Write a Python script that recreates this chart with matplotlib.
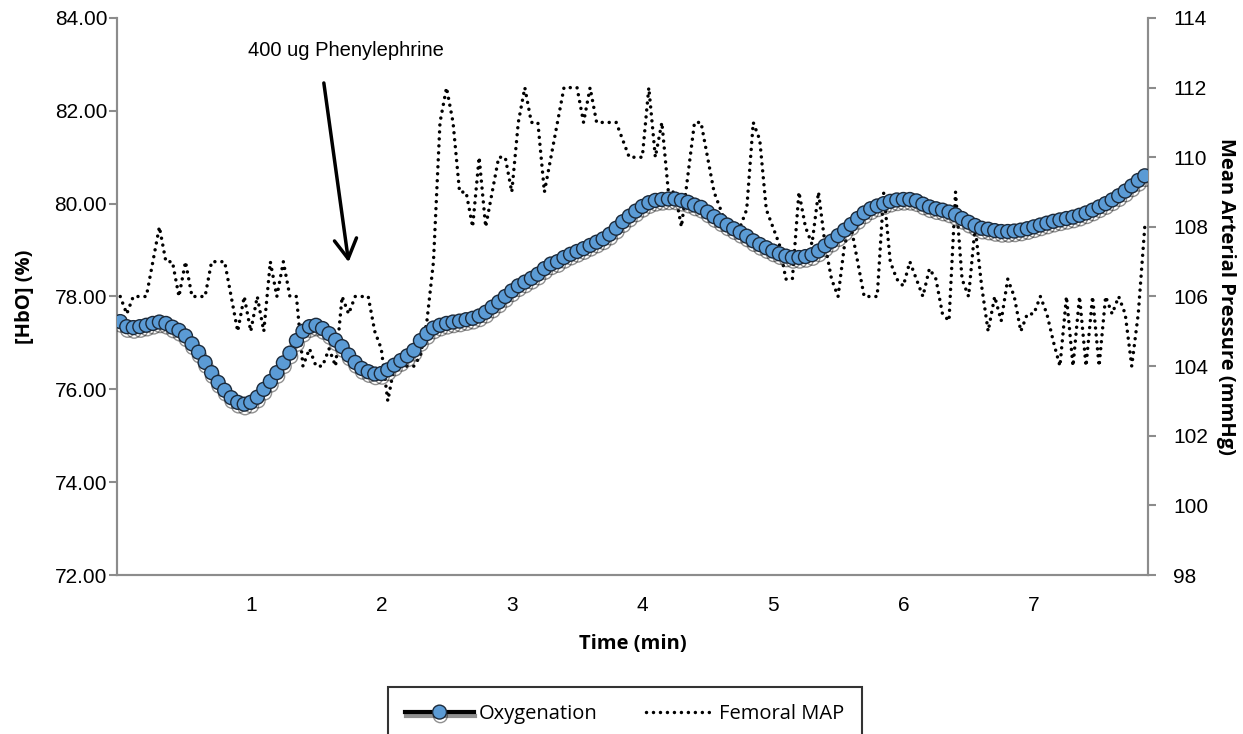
import numpy as np
import matplotlib
matplotlib.use("Agg")
import matplotlib.pyplot as plt
import matplotlib.patheffects as pe

# [HbO] (%) sampled every 3 s (0.05 min)
oxygenation = [
    77.46, 77.35, 77.33, 77.35, 77.38, 77.42, 77.45, 77.42, 77.34, 77.27,
    77.15, 76.98, 76.80, 76.58, 76.36, 76.15, 75.98, 75.82, 75.72, 75.68,
    75.72, 75.83, 76.00, 76.17, 76.36, 76.57, 76.78, 77.05, 77.25, 77.35,
    77.38, 77.31, 77.20, 77.06, 76.92, 76.74, 76.58, 76.45, 76.38, 76.33,
    76.34, 76.42, 76.52, 76.62, 76.72, 76.84, 77.05, 77.20, 77.32, 77.38,
    77.42, 77.45, 77.47, 77.50, 77.53, 77.58, 77.66, 77.77, 77.88, 78.00,
    78.12, 78.23, 78.31, 78.39, 78.48, 78.60, 78.70, 78.75, 78.84, 78.91,
    78.97, 79.03, 79.10, 79.17, 79.24, 79.34, 79.47, 79.61, 79.73, 79.84,
    79.94, 80.02, 80.07, 80.09, 80.10, 80.10, 80.07, 80.03, 79.97, 79.92,
    79.82, 79.72, 79.63, 79.54, 79.46, 79.38, 79.30, 79.20, 79.12, 79.05,
    78.98, 78.92, 78.87, 78.84, 78.84, 78.86, 78.90, 78.98, 79.09, 79.19,
    79.31, 79.43, 79.55, 79.68, 79.80, 79.89, 79.95, 80.00, 80.05, 80.08,
    80.09, 80.09, 80.06, 79.99, 79.93, 79.89, 79.86, 79.82, 79.76, 79.68,
    79.60, 79.53, 79.47, 79.45, 79.42, 79.40, 79.40, 79.41, 79.43, 79.46,
    79.50, 79.54, 79.58, 79.62, 79.65, 79.68, 79.71, 79.75, 79.80, 79.86,
    79.93, 80.00, 80.08, 80.17, 80.27, 80.38, 80.50, 80.60,
]

# femoral mean arterial pressure (mmHg), same sampling
femoral_map = [
    106, 105.5, 106, 106, 106, 107, 108, 107, 107, 106,
    107, 106, 106, 106, 107, 107, 107, 106, 105, 106,
    105, 106, 105, 107, 106, 107, 106, 106, 104, 104.5,
    104, 104, 104.5, 104, 106, 105.5, 106, 106, 106, 105,
    104.5, 103, 104, 104, 104, 104, 104.3, 105.3, 107, 111,
    112, 111, 109, 109, 108, 110, 108, 109, 110, 110,
    109, 111, 112, 111, 111, 109, 110, 111, 112, 112,
    112, 111, 112, 111, 111, 111, 111, 110.5, 110, 110,
    110, 112, 110, 111, 109, 109, 108, 109.5, 111, 111,
    110, 109, 108.5, 108, 108, 108, 108.5, 111, 110.5, 108.5,
    108, 107.5, 106.5, 106.5, 109, 108, 107.5, 109, 107.5, 106.5,
    106, 107.5, 108, 107, 106, 106, 106, 109, 107, 106.5,
    106.3, 107, 106.5, 106, 106.8, 106.5, 105.5, 105.3, 109, 106.5,
    106, 108, 106.3, 105, 106, 105.3, 106.5, 106, 105, 105.5,
    105.5, 106, 105.5, 104.7, 104, 106, 104, 106, 104, 106,
    104, 106, 105.5, 106, 105.5, 104, 105.5, 108,
]

step_min = 0.05
time_min = np.arange(len(oxygenation)) * step_min
x_ticks = [1, 2, 3, 4, 5, 6, 7]
left_ticks = [72, 74, 76, 78, 80, 82, 84]
right_ticks = [98, 100, 102, 104, 106, 108, 110, 112, 114]

tick_font = "Liberation Sans"
label_font = "Open Sans"
axis_grey = "#8c8c8c"

fig = plt.figure(figsize=(12.43, 7.34), dpi=100)
ax = fig.add_axes([0.0941, 0.2166, 0.8295, 0.7589])
ax2 = ax.twinx()

# dotted pressure trace (secondary axis)
map_line, = ax2.plot(time_min, femoral_map, color="black", lw=2.5,
                     linestyle=(0, (0.01, 2.0)), dash_capstyle="round",
                     label="Femoral MAP")

# oxygenation with soft shadow under the markers
oxy_line, = ax.plot(time_min, oxygenation, color="black", lw=3,
                    marker="o", markersize=10, markerfacecolor="#5B9BD5",
                    markeredgecolor="#1c2a3a", markeredgewidth=1.0,
                    label="Oxygenation", zorder=5)
oxy_line.set_path_effects([
    pe.SimpleLineShadow(offset=(0.6, -2.6), shadow_color="#222222", alpha=0.5),
    pe.Normal(),
])
ax.set_zorder(ax2.get_zorder() + 1)
ax.patch.set_visible(False)

ax.set_xlim(-step_min / 2, time_min[-1] + step_min / 2)
ax.set_ylim(72, 84)
ax2.set_ylim(98, 114)

ax.set_xticks(x_ticks)
ax.set_xticklabels([str(v) for v in x_ticks], fontfamily=tick_font, fontsize=15)
ax.set_yticks(left_ticks)
ax.set_yticklabels([f"{v:.2f}" for v in left_ticks], fontfamily=tick_font, fontsize=15)
ax2.set_yticks(right_ticks)
ax2.set_yticklabels([str(v) for v in right_ticks], fontfamily=tick_font, fontsize=15)

for a in (ax, ax2):
    a.spines["top"].set_visible(False)
    for s in ("left", "right", "bottom"):
        a.spines[s].set_color(axis_grey)
        a.spines[s].set_linewidth(1.5)
    a.tick_params(axis="both", color=axis_grey, width=1.5, length=6, direction="out")
ax.tick_params(axis="x", length=0, pad=15)
ax.tick_params(axis="y", pad=1)
ax2.tick_params(axis="y", pad=12)

ax.set_xlabel("Time (min)", fontfamily=label_font, fontweight="bold", fontsize=14.5, labelpad=14)
ax.set_ylabel("[HbO] (%)", fontfamily=label_font, fontweight="bold", fontsize=14.5, labelpad=14)
ax2.set_ylabel("Mean Arterial Pressure (mmHg)", fontfamily=label_font, fontweight="bold",
               fontsize=14.5, rotation=270, labelpad=20)

ax.text(1.73, 83.3, "400 ug Phenylephrine", ha="center", va="center",
        fontfamily=tick_font, fontsize=14.5)
ax.annotate("", xy=(1.75, 78.74), xytext=(1.56, 82.6),
            arrowprops=dict(arrowstyle="->, head_length=0.7, head_width=0.4",
                            color="black", lw=2.5, mutation_scale=20,
                            shrinkA=0, shrinkB=0))

leg = fig.legend(handles=[oxy_line, map_line], loc="upper center", ncol=2,
                 bbox_to_anchor=(0.5028, 0.064), frameon=True, fancybox=False,
                 prop={"family": label_font, "size": 14.5}, handlelength=3.4,
                 columnspacing=2.4, borderpad=0.85, handletextpad=0.25,
                 borderaxespad=0)
leg.get_frame().set_edgecolor("black")
leg.get_frame().set_linewidth(1.5)

fig.savefig("out.png", dpi=100)
